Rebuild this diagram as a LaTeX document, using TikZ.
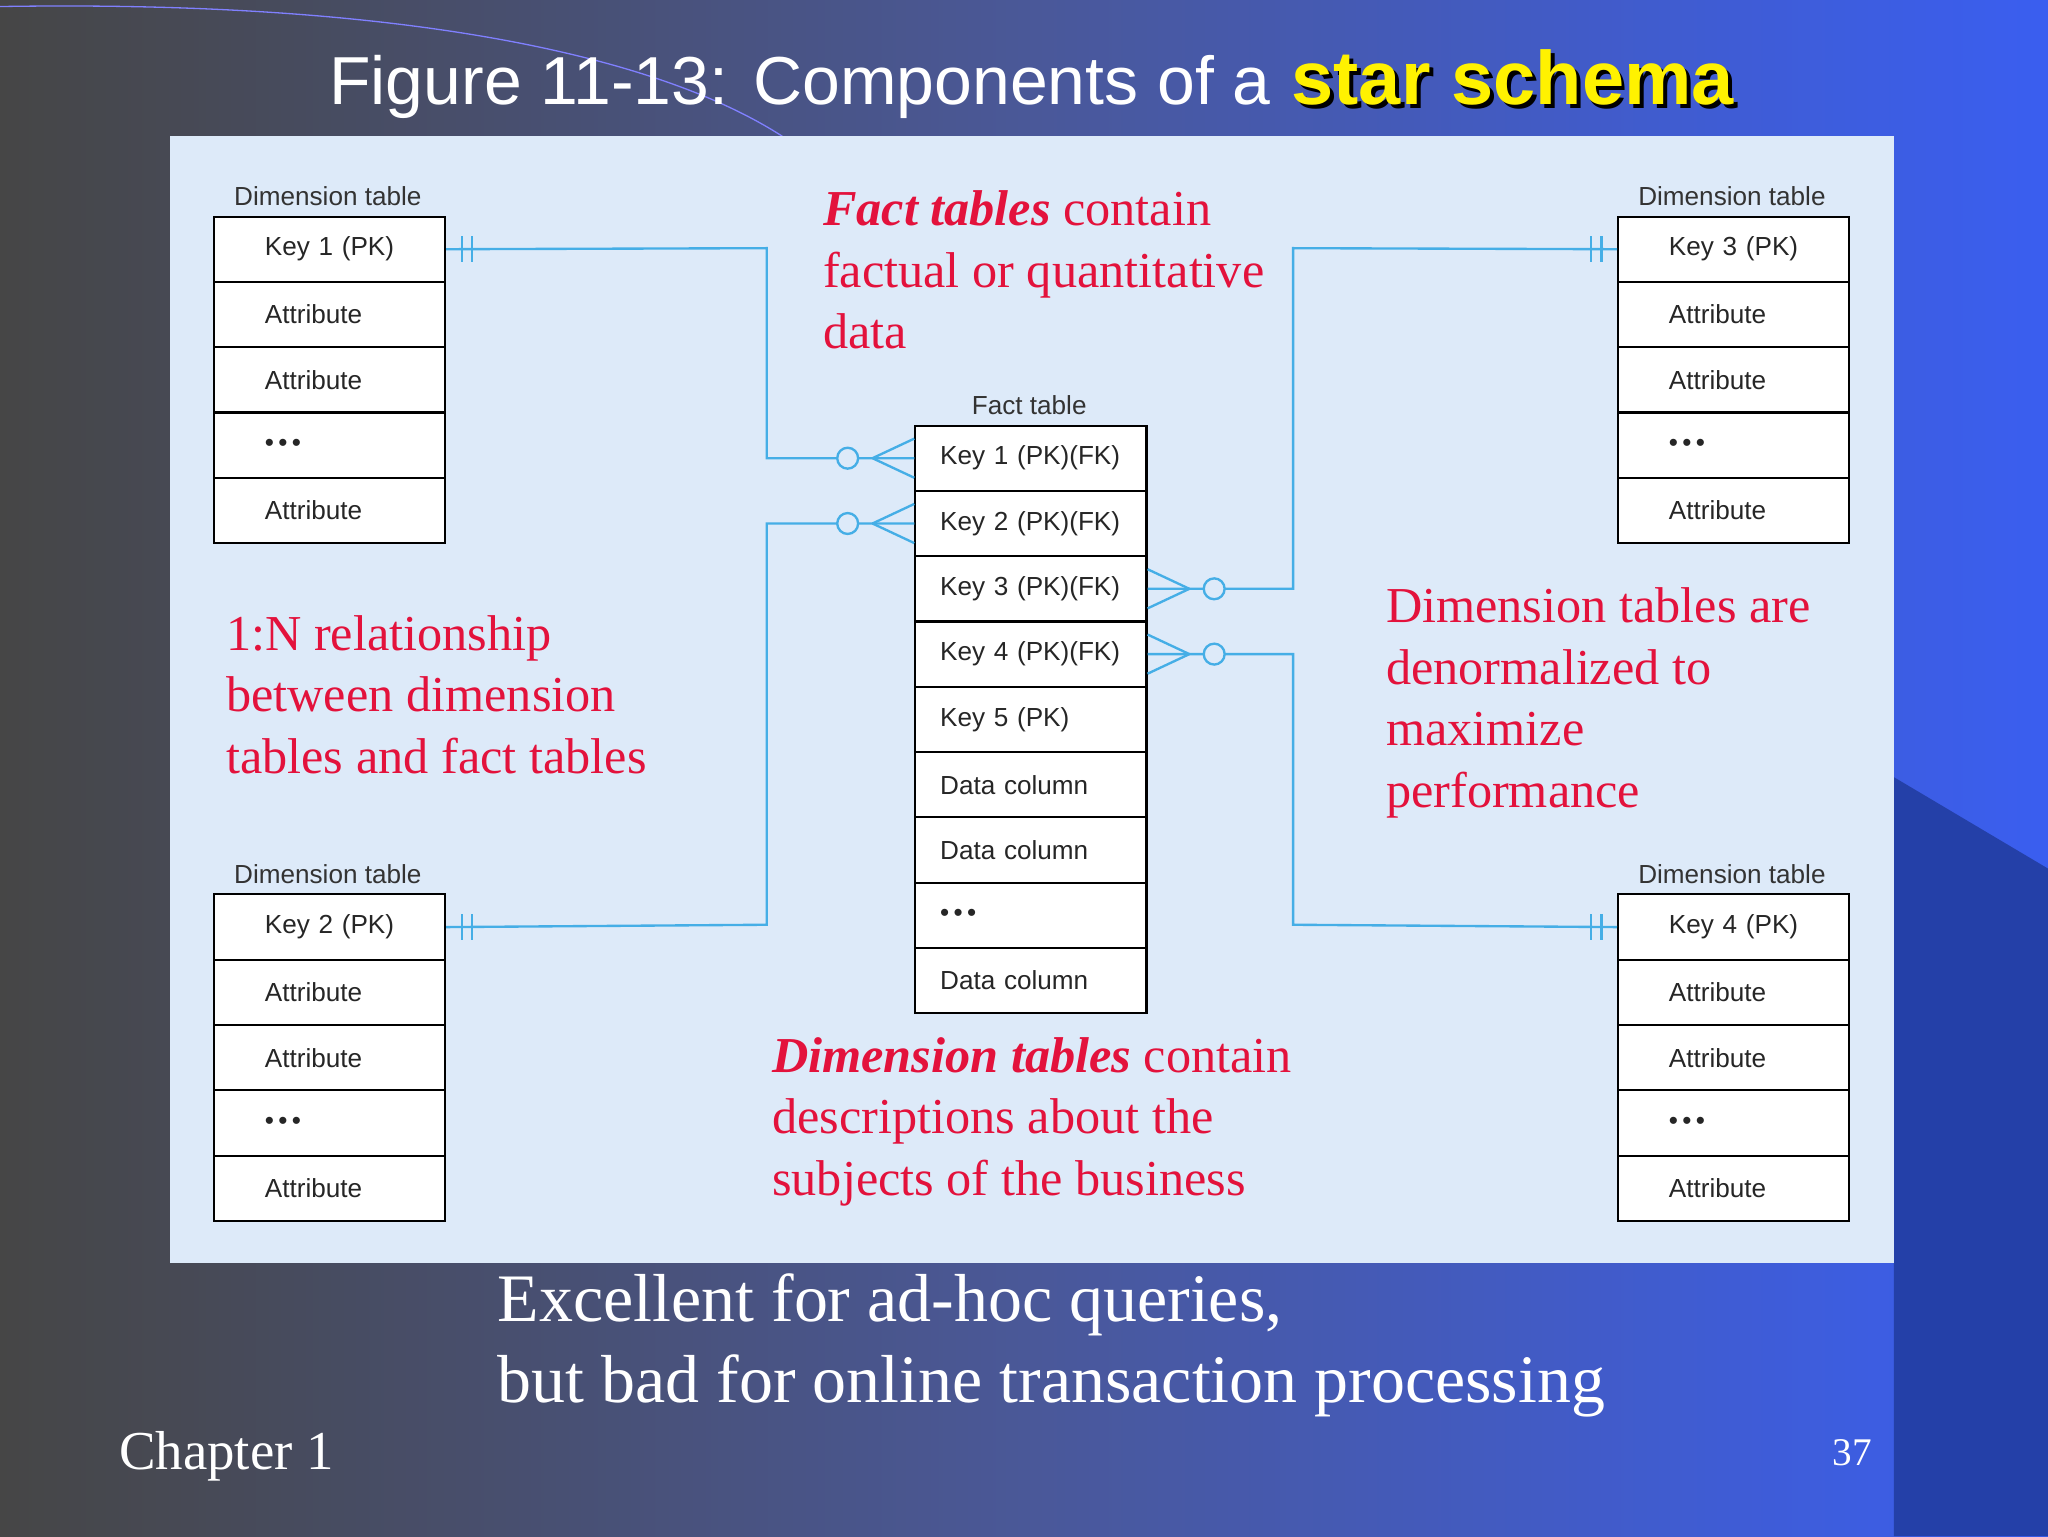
\documentclass[tikz,border=0pt]{standalone}
\usepackage{fontspec}
\setmainfont{Liberation Serif}
\setsansfont{Liberation Sans}
\usetikzlibrary{calc}
\definecolor{panel}{HTML}{DDEAF9}
\definecolor{conn}{HTML}{45AEE6}
\definecolor{redt}{HTML}{E3123C}
\definecolor{ylw}{HTML}{FFF200}
\definecolor{bgL}{HTML}{464646}
\definecolor{bgM}{HTML}{4A5898}
\definecolor{bgR}{HTML}{3A5EF0}
\definecolor{bgDark}{HTML}{2440A8}
\tikzset{
 cell/.style={draw=black,line width=1.6pt,fill=white,minimum width=177pt,minimum height=50pt,inner sep=0pt,font=\sffamily\fontsize{20}{22}\selectfont,text=black!85},
 ttl/.style={font=\sffamily\fontsize{20}{22}\selectfont,text=black!80},
 ln/.style={draw=conn,line width=1.8pt},
 red/.style={text=redt,font=\fontsize{38.5}{47}\selectfont,align=left,anchor=north west,inner sep=0pt}
}
\newcommand{\dimtab}[4]{% name, left x, top y, key text
 \node[ttl] at ({#2+88},{#3-15}) {Dimension table};
 \foreach \t [count=\i] in {{#4},Attribute,Attribute,{\textbullet\,\textbullet\,\textbullet},Attribute}
  \node[cell,anchor=north west,align=left,text width=139pt] (#1r\i) at ({#2},{#3+(\i-1)*50}) {\hspace*{20pt}\t};
}
\begin{document}
\begin{tikzpicture}[x=1pt,y=-1pt]
\useasboundingbox (0,0) rectangle (1568,1176);
\shade[left color=bgL,right color=bgR, middle color=bgM] (0,0) rectangle (1568,1176);
\fill[bgDark] (1450,595) -- (1568,665) -- (1568,1176) -- (1450,1176) -- cycle;
\draw[blue!50!white,line width=1pt] (0,5) .. controls (300,0) and (500,40) .. (600,105);
\node[text=white,font=\sffamily\fontsize{52}{60}\selectfont,anchor=base west,inner sep=0pt] (title) at (252,80) {Figure 11-13: Components of a\hspace{16pt}\textcolor{ylw}{\fontsize{58}{60}\selectfont\bfseries\rlap{\hspace{3pt}\raisebox{-3pt}{\textcolor{black}{star schema}}}star schema}};
\fill[panel] (130,104) rectangle (1450,967);
% tables
\dimtab{a}{163}{165}{Key 1 (PK)}
\dimtab{b}{163}{684}{Key 2 (PK)}
\dimtab{c}{1238}{165}{Key 3 (PK)}
\dimtab{d}{1238}{684}{Key 4 (PK)}
\node[ttl] at (788,310) {Fact table};
\foreach \t [count=\i] in {{Key 1 (PK)(FK)},{Key 2 (PK)(FK)},{Key 3 (PK)(FK)},{Key 4 (PK)(FK)},{Key 5 (PK)},Data column,Data column,{\textbullet\,\textbullet\,\textbullet},Data column}
  \node[cell,anchor=north west,align=left,text width=139pt] (f\i) at (700,{325+(\i-1)*50}) {\t};
% connectors
\coordinate (j1) at (587,190); \coordinate (j2) at (587,708);
\coordinate (j3) at (990,190); \coordinate (j4) at (990,708);
\draw[ln] (ar1.east) -- (j1) |- (f1.west);
\draw[ln] (br1.east) -- (j2) |- (f2.west);
\draw[ln] (f3.east) -| (j3) -- (cr1.west);
\draw[ln] (f4.east) -| (j4) -- (dr1.west);
% one marks
\foreach \n/\a/\s in {ar1/east/1,br1/east/1,cr1/west/-1,dr1/west/-1}{
 \draw[ln] ($(\n.\a)+(\s*12,-10)$) -- ++(0,20);
 \draw[ln] ($(\n.\a)+(\s*20,-10)$) -- ++(0,20);
}
% many marks
\foreach \n/\a/\s in {f1/west/-1,f2/west/-1,f3/east/1,f4/east/1}{
 \coordinate (p) at (\n.\a);
 \draw[ln] ($(p)+(\s*32,0)$) -- ($(p)+(0,-15)$);
 \draw[ln] ($(p)+(\s*32,0)$) -- ($(p)+(0,15)$);
 \draw[ln,fill=panel] ($(p)+(\s*51,0)$) circle (8);
}
% red texts
\node[red] at (630,146) {\textbf{\textit{Fact tables}} contain\\factual or quantitative\\data};
\node[red] at (173,471) {1:N relationship\\between dimension\\tables and fact tables};
\node[red] at (1061,450) {Dimension tables are\\denormalized to\\maximize\\performance};
\node[red] at (591,794) {\textbf{\textit{Dimension tables}} contain\\descriptions about the\\subjects of the business};
% bottom
\node[text=white,font=\fontsize{52}{62}\selectfont,align=left,anchor=north west,inner sep=0pt] at (381,975) {Excellent for ad-hoc queries,\\but bad for online transaction processing};
\node[text=white,font=\fontsize{42}{48}\selectfont,anchor=base west,inner sep=0pt] at (91,1125) {Chapter 1};
\node[text=white,font=\fontsize{30}{32}\selectfont] at (1418,1112) {37};
\end{tikzpicture}
\end{document}
